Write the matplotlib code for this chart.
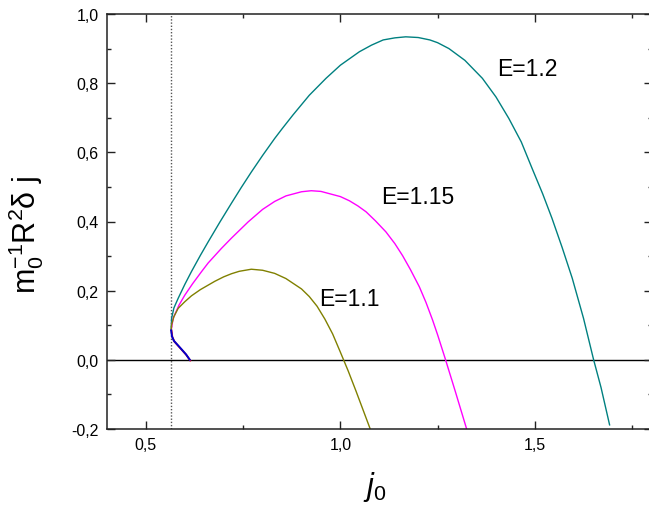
import matplotlib
matplotlib.use("Agg")
import matplotlib.pyplot as plt
from matplotlib.ticker import MultipleLocator, FuncFormatter

plt.rcParams['font.family'] = ['Liberation Sans', 'DejaVu Sans']
plt.rcParams['mathtext.fontset'] = 'custom'
plt.rcParams['mathtext.rm'] = 'Liberation Sans'
plt.rcParams['mathtext.it'] = 'Liberation Sans:italic'
plt.rcParams['mathtext.bf'] = 'Liberation Sans:bold'

# ---- data ----
j_teal = [0.565, 0.566, 0.572, 0.583, 0.600, 0.617, 0.640, 0.660, 0.690, 0.720, 0.745,
          0.771, 0.800, 0.831, 0.850, 0.878, 0.920, 0.963, 1.000, 1.049, 1.080, 1.110,
          1.140, 1.168, 1.200, 1.230, 1.250, 1.279, 1.320, 1.365, 1.400, 1.433, 1.465,
          1.493, 1.520, 1.544, 1.570, 1.596, 1.625, 1.651, 1.670, 1.692]
v_teal = [0.085, 0.120, 0.150, 0.178, 0.218, 0.255, 0.302, 0.341, 0.398, 0.453, 0.498,
          0.543, 0.591, 0.640, 0.668, 0.708, 0.765, 0.814, 0.852, 0.891, 0.910, 0.925,
          0.931, 0.934, 0.932, 0.925, 0.917, 0.900, 0.866, 0.814, 0.760, 0.698, 0.630,
          0.553, 0.480, 0.409, 0.325, 0.236, 0.120, 0.000, -0.080, -0.188]

j_mag = [0.565, 0.570, 0.585, 0.600, 0.620, 0.643, 0.660, 0.694, 0.720, 0.763, 0.800,
         0.831, 0.860, 0.900, 0.925, 0.950, 1.000, 1.023, 1.045, 1.066, 1.090, 1.117,
         1.140, 1.160, 1.180, 1.203, 1.220, 1.237, 1.250, 1.269, 1.295, 1.324]
v_mag = [0.085, 0.120, 0.158, 0.187, 0.220, 0.255, 0.280, 0.322, 0.352, 0.399, 0.435,
         0.458, 0.474, 0.486, 0.489, 0.487, 0.472, 0.460, 0.445, 0.428, 0.402, 0.370,
         0.336, 0.301, 0.261, 0.211, 0.166, 0.115, 0.072, 0.005, -0.090, -0.198]

j_oli = [0.565, 0.566, 0.572, 0.583, 0.600, 0.617, 0.640, 0.677, 0.700, 0.720, 0.740,
         0.771, 0.800, 0.831, 0.860, 0.900, 0.920, 0.940, 0.960, 0.980, 1.000, 1.020,
         1.040, 1.060, 1.076]
v_oli = [0.085, 0.101, 0.125, 0.149, 0.168, 0.185, 0.203, 0.227, 0.240, 0.249, 0.256,
         0.262, 0.259, 0.250, 0.235, 0.205, 0.183, 0.155, 0.118, 0.075, 0.022, -0.032,
         -0.090, -0.150, -0.198]

j_low = [0.565, 0.567, 0.572, 0.580, 0.592, 0.603, 0.613]
v_low = [0.085, 0.068, 0.055, 0.045, 0.030, 0.016, 0.000]

j_crit = 0.564

labels = ["E=1.2", "E=1.15", "E=1.1"]
label_pos = [(1.48, 0.843), (1.20, 0.473), (1.022, 0.178)]

xticks = [0.5, 1.0, 1.5]
yticks = [-0.2, 0.0, 0.2, 0.4, 0.6, 0.8, 1.0]

# ---- figure ----
W, H = 649, 510
fig = plt.figure(figsize=(W / 100, H / 100), dpi=100)
left, right, top, bottom = 107, 651.6, 15, 430
ax = fig.add_axes([left / W, 1 - bottom / H, (right - left) / W, (bottom - top) / H])

ax.plot(j_teal, v_teal, color='#008080', lw=1.0)
ax.plot(j_mag, v_mag, color='#FF00FF', lw=1.0)
ax.plot(j_oli, v_oli, color='#808000', lw=1.0)
ax.plot([x + 0.001 for x in j_low], [y - 0.002 for y in v_low], color='#FF0000', lw=1.3)
ax.plot(j_low, v_low, color='#0000CC', lw=1.4)

ax.axhline(0.0, color='black', lw=1.0, zorder=1)
ax.axvline(j_crit, color='#555555', lw=1.0, ls=(0, (1, 1.3)), zorder=1)

for t, (x, y) in zip(labels, label_pos):
    ax.text(x, y, t, fontsize=16.5, ha='center', va='center')

ax.set_xlim(0.4, 1.8)
ax.set_ylim(-0.2, 1.0)
ax.set_xticks(xticks)
ax.set_yticks(yticks)
ax.xaxis.set_minor_locator(MultipleLocator(0.25))
ax.yaxis.set_minor_locator(MultipleLocator(0.1))
fmt = FuncFormatter(lambda v, p: f"{v:.1f}".replace('.', ',').replace('-0,0', '0,0'))
ax.xaxis.set_major_formatter(fmt)
ax.yaxis.set_major_formatter(fmt)
ax.tick_params(which='both', direction='in', top=True, right=True, width=1.0,
               labelsize=11.5, color='#222222')
ax.tick_params(which='major', length=6, pad=6)
ax.tick_params(which='minor', length=3)
for s in ax.spines.values():
    s.set_linewidth(1.1)
    s.set_color('#222222')

fig.text(26 / W, 1 - 235 / H, r'$\mathregular{m_0^{-1}R^2\delta\ j}$', rotation=90,
         fontsize=22, ha='center', va='center')
fig.text(375 / W, 1 - 487 / H, r'$\mathit{j}_0$', fontsize=22, ha='center', va='center')

fig.savefig('out.png', dpi=100)
